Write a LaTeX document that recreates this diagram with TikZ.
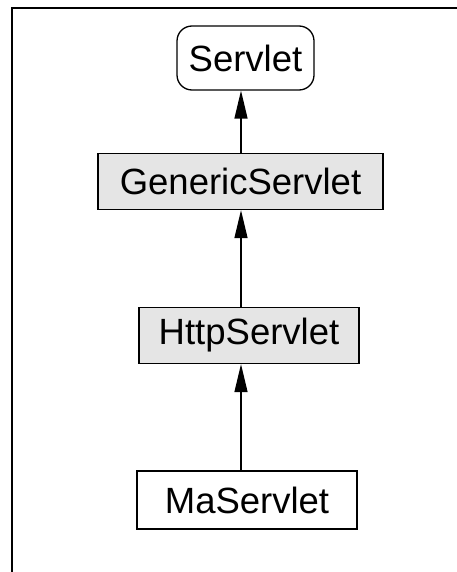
\documentclass[tikz,border=0pt]{standalone}
\usepackage{fontspec}
\setmainfont{Liberation Sans}
\usetikzlibrary{arrows.meta,positioning}
\definecolor{BoxGray}{RGB}{229, 229, 229}

\begin{document}
\begin{tikzpicture}[x=1pt, y=-1pt, font=\fontsize{36.5}{43}\selectfont,
  cls/.style={draw, line width=1.3pt, inner sep=0pt, align=center},
  iface/.style={cls, rounded corners=15pt, minimum width=137pt, minimum height=64pt},
  base/.style={cls, fill=BoxGray, minimum height=56pt},
  inh/.style={-{Triangle[length=28pt, width=13pt]}, line width=1.3pt}]
  \useasboundingbox (0,0) rectangle (457,572);
  % cropped frame: only top and left edges show
  \draw[line width=2pt] (457,8) -- (12,8) -- (12,572);
  \node[iface] (servlet) at (245.5,58)   {Servlet};
  \node[base, minimum width=285pt] (generic) at (240.5,181.5) {GenericServlet};
  \node[base, minimum width=220pt] (http)    at (249,335.5)   {HttpServlet};
  \node[cls, minimum width=220pt, minimum height=58pt] (ma) at (247,500) {MaServlet};
  \coordinate (axis) at (241,0);
  \draw[inh] (axis |- generic.north) -- (axis |- servlet.south);
  \draw[inh] (axis |- http.north) -- (axis |- generic.south);
  \draw[inh] (axis |- ma.north) -- (axis |- http.south);
\end{tikzpicture}
\end{document}
